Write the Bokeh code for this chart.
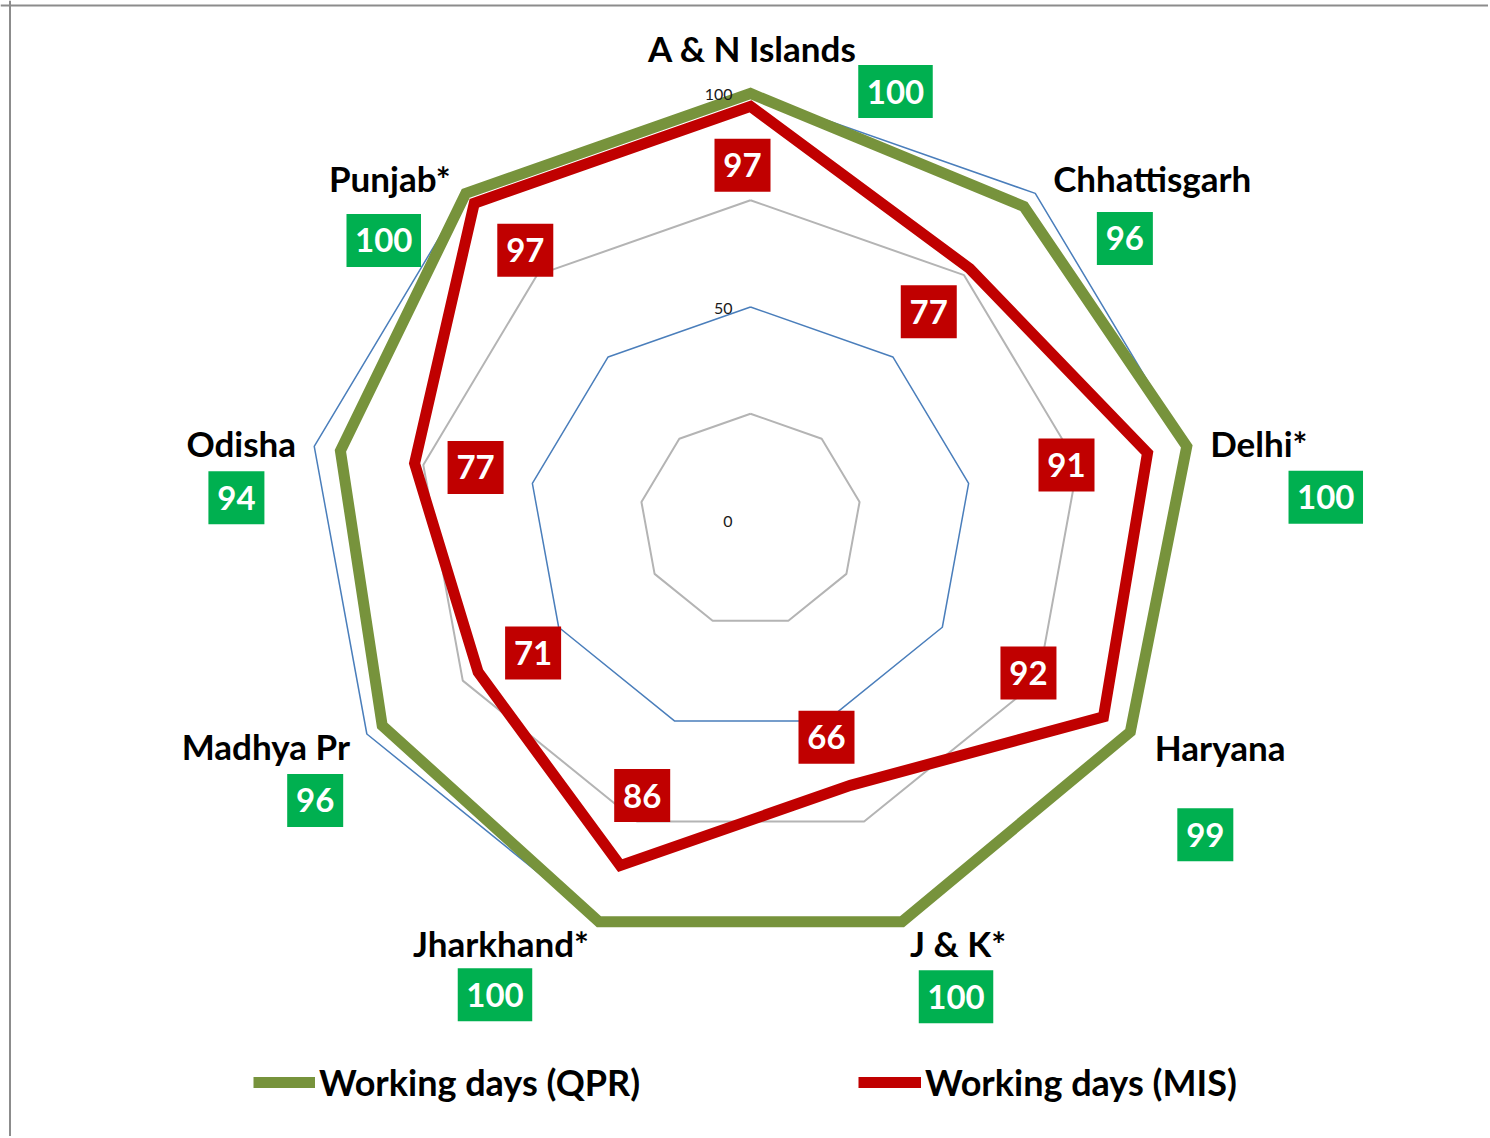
import math
from bokeh.plotting import figure
from bokeh.models import Range1d, Span, Legend, LegendItem
from bokeh.core.properties import value
from bokeh.embed import file_html
from bokeh.resources import INLINE

# ---------------- data ----------------
categories = ["A & N Islands", "Chhattisgarh", "Delhi*", "Haryana", "J & K*",
              "Jharkhand*", "Madhya Pr", "Odisha", "Punjab*"]
qpr = [100, 96, 100, 99, 100, 100, 96, 94, 100]
mis = [97, 77, 91, 92, 66, 86, 71, 77, 97]
series_names = ["Working days (QPR)", "Working days (MIS)"]
grid_levels = [25, 50, 75, 100]
tick_values = [0, 50, 100]
tick_labels = ["0", "50", "100"]

# ---------------- layout (pixels) ----------------
W, H = 1488, 1136
PAGE = 0
CX, CY = 750, 520          # radar centre on the page
SX, SY = 4.43, 4.27        # pixels per value unit (x, y)

ring_colors = ["#b4b4b4", "#4a7ebb", "#b4b4b4", "#4a7ebb"]
ring_widths = [2, 1.5, 2, 1.5]
GREEN_LINE, RED_LINE = "#77933c", "#c00000"
GREEN_BOX, RED_BOX = "#00b050", "#c00000"
FONT = "Lato"

# label offsets (pixels, right / down) from the data vertex
qpr_label_off = [(145, -2), (101, 32), (139, 51), (75, 103), (54, 75),
                 (-104, 73), (-67, 75), (-104, 47), (-82, 47)]
mis_label_off = [(-8, 59), (-41, 43), (-81, 12), (-75, -44), (-24, -48),
                 (22, -70), (55, -19), (61, 4), (51, 47)]
# category label offsets (pixels) from the 100-ring vertex
cat_off = [(2, -46), (117, -15), (72, -3), (86, 13), (56, 21),
           (-98, 21), (-101, 12), (-73, -3), (-76, -15)]

n = len(categories)


def polar(v, i):
    th = 2 * math.pi * i / n
    return v * math.sin(th), v * math.cos(th)


def shift(pt, off):
    return pt[0] + off[0] / SX, pt[1] - off[1] / SY


p = figure(width=W, height=H, output_backend="svg", toolbar_location=None,
           x_range=Range1d((PAGE - CX) / SX, (PAGE + W - CX) / SX),
           y_range=Range1d((CY - PAGE - H) / SY, (CY - PAGE) / SY),
           min_border=0)
p.axis.visible = False
p.grid.visible = False
p.outline_line_color = None
p.background_fill_color = "white"
p.border_fill_color = "white"

# chart border (left + top)
p.add_layout(Span(location=(9.5 - CX) / SX, dimension="height",
                  line_color="#8c8c8c", line_width=2))
p.add_layout(Span(location=(CY - 5) / SY, dimension="width",
                  line_color="#8c8c8c", line_width=2))

# grid rings
for lvl, col, lw in zip(grid_levels, ring_colors, ring_widths):
    pts = [polar(lvl, i) for i in range(n)] + [polar(lvl, 0)]
    p.line([a for a, b in pts], [b for a, b in pts], line_color=col, line_width=lw)

# series
def series_xy(vals):
    pts = [polar(v, i) for i, v in enumerate(vals)] + [polar(vals[0], 0), polar(vals[1], 1)]
    return [a for a, b in pts], [b for a, b in pts]

gx, gy = series_xy(qpr)
g_line = p.line(gx, gy, line_color=GREEN_LINE, line_width=11, line_join="miter")
rx, ry = series_xy(mis)
r_line = p.line(rx, ry, line_color=RED_LINE, line_width=11, line_join="miter")

# radial axis tick labels
p.text(x=[-18 / SX] * len(tick_values), y=[v - 1 / SY for v in tick_values], text=tick_labels,
       text_align="right", text_baseline="middle", text_font=value(FONT),
       text_font_size="16px", text_color="#1a1a1a")

# category labels
cpts = [shift(polar(100, i), cat_off[i]) for i in range(n)]
p.text(x=[a for a, b in cpts], y=[b for a, b in cpts], text=categories,
       text_align="center", text_baseline="middle", text_font=value(FONT),
       text_font_style="bold", text_font_size="35px", text_color="black")

# value labels
def value_labels(vals, offs, color):
    pts = [shift(polar(v, i), offs[i]) for i, v in enumerate(vals)]
    xs = [a for a, b in pts]
    ys = [b for a, b in pts]
    txt = [str(v) for v in vals]
    widths = [19 + 18.5 * len(t) for t in txt]
    p.rect(x=xs, y=ys, width=widths, height=[53] * len(xs), width_units="screen",
           height_units="screen", fill_color=color, line_color=None)
    p.text(x=xs, y=ys, text=txt, text_align="center", text_baseline="middle",
           text_font=value(FONT), text_font_style="bold", text_font_size="33px",
           text_color="white")

value_labels(qpr, qpr_label_off, GREEN_BOX)
value_labels(mis, mis_label_off, RED_BOX)

# legends
for name, rend, lx, gw in [(series_names[0], g_line, 253, 62), (series_names[1], r_line, 858, 63)]:
    lg = Legend(items=[LegendItem(label=name, renderers=[rend])], location=(lx, H - 1084 - 20),
                orientation="horizontal", padding=0, margin=0, spacing=0,
                glyph_width=gw, glyph_height=40, label_height=40, label_standoff=4,
                border_line_alpha=0, background_fill_alpha=0,
                label_text_font=FONT, label_text_font_style="bold",
                label_text_font_size="36px", label_text_color="black")
    p.add_layout(lg)

open("out.html", "w").write(file_html(p, INLINE))
